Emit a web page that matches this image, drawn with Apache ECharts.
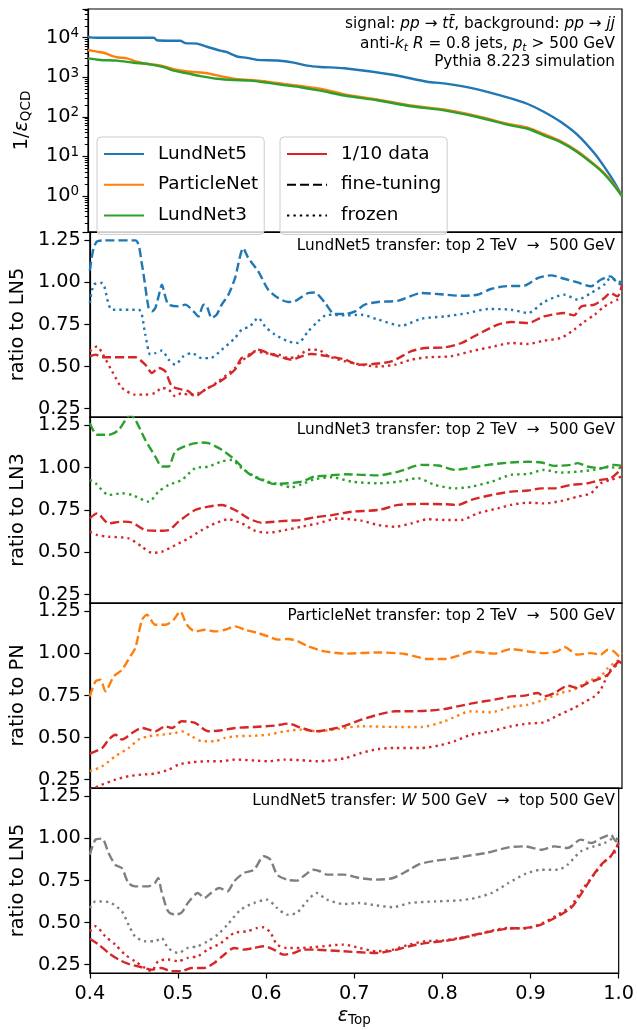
<!DOCTYPE html>
<html><head><meta charset="utf-8">
<script src="https://cdn.jsdelivr.net/npm/echarts@6/dist/echarts.min.js"></script>
<style>html,body{margin:0;padding:0;background:#fff}#c{width:637px;height:1030px}</style>
</head><body><div id="c"></div>
<script>
// ---------- data (x = signal efficiency, y = value) ----------
const xTicks = [0.4, 0.5, 0.6, 0.7, 0.8, 0.9, 1.0];
const logTicks = [1, 10, 100, 1000, 10000];
const ratioTicks = [0.25, 0.5, 0.75, 1.0, 1.25];

// panel 1: 1/eps_QCD
const LN5_roc = [[0.4,11000],[0.402,10200],[0.41,10000],[0.45,10000],[0.474,10000],[0.4775,8600],[0.49,8400],[0.5037,8400],[0.5094,7300],[0.5225,7100],[0.5337,5900],[0.5487,4700],[0.5562,4300],[0.5674,3350],[0.5787,3100],[0.5899,2750],[0.6124,2650],[0.6311,2350],[0.6461,1970],[0.661,1820],[0.688,1690],[0.744,1140],[0.781,773],[0.8,700],[0.8375,495],[0.875,293],[0.894,211],[0.912,135],[0.931,75],[0.95,35],[0.969,12],[0.98,5.5],[0.991,2.3],[1.0,1.0]];
const PN_roc = [[0.4,4900],[0.41,4450],[0.4176,4170],[0.4251,3600],[0.4326,3200],[0.4438,3000],[0.455,2470],[0.4663,2160],[0.4775,2040],[0.4888,1800],[0.5,1530],[0.515,1380],[0.5337,1260],[0.5487,1070],[0.5637,920],[0.5824,850],[0.6011,774],[0.6199,676],[0.6386,600],[0.661,515],[0.688,370],[0.725,275],[0.7625,193],[0.8,153],[0.8375,104],[0.875,64],[0.894,53],[0.912,37],[0.931,24.5],[0.95,13.5],[0.969,6.3],[0.98,3.8],[0.991,1.95],[1.0,1.0]];
const LN3_roc = [[0.4,3000],[0.4139,2740],[0.4326,2630],[0.4513,2330],[0.47,2120],[0.485,1800],[0.4963,1470],[0.5112,1260],[0.5262,1070],[0.545,920],[0.5637,850],[0.5824,820],[0.6011,730],[0.6199,635],[0.6386,560],[0.661,460],[0.688,345],[0.725,262],[0.7625,185],[0.8,146],[0.8375,99],[0.875,61],[0.894,50],[0.912,34],[0.931,23],[0.95,12.8],[0.969,6.0],[0.98,3.6],[0.991,1.85],[1.0,1.0]];

// panel 2: LundNet5 transfer top 2 TeV -> 500 GeV (ratio to LN5)
const LN5_ft = [[0.4,1.07],[0.404,1.2],[0.4082,1.244],[0.415,1.25],[0.4513,1.25],[0.4588,1.105],[0.4663,0.848],[0.47,0.828],[0.4738,0.848],[0.4775,0.917],[0.4813,0.987],[0.485,0.917],[0.4888,0.868],[0.5,0.858],[0.5075,0.868],[0.5169,0.828],[0.5225,0.798],[0.5281,0.868],[0.5318,0.858],[0.5375,0.789],[0.5431,0.81],[0.5487,0.868],[0.5562,0.927],[0.5637,1.026],[0.573,1.204],[0.5787,1.145],[0.5899,1.066],[0.6011,0.957],[0.6124,0.907],[0.6236,0.884],[0.6311,0.888],[0.6461,0.937],[0.6536,0.94],[0.665,0.88],[0.676,0.812],[0.688,0.812],[0.699,0.828],[0.71,0.868],[0.725,0.884],[0.748,0.892],[0.774,0.937],[0.7925,0.931],[0.819,0.921],[0.837,0.927],[0.852,0.961],[0.8674,0.977],[0.89,0.981],[0.905,1.026],[0.92,1.042],[0.935,1.022],[0.95,1.0],[0.965,0.977],[0.976,1.016],[0.987,1.036],[0.995,0.996],[1.0,0.987]];
const LN5_fz = [[0.4,0.878],[0.4045,0.987],[0.4139,0.997],[0.4251,0.838],[0.4551,0.838],[0.4625,0.69],[0.4682,0.571],[0.4738,0.58],[0.4813,0.595],[0.4888,0.541],[0.4963,0.511],[0.5056,0.561],[0.515,0.58],[0.5262,0.55],[0.5356,0.55],[0.5487,0.6],[0.5637,0.67],[0.5712,0.719],[0.5805,0.739],[0.5899,0.789],[0.5974,0.74],[0.6086,0.69],[0.6236,0.65],[0.6348,0.64],[0.6461,0.709],[0.6573,0.769],[0.668,0.808],[0.688,0.804],[0.706,0.808],[0.725,0.779],[0.751,0.743],[0.774,0.785],[0.8,0.798],[0.826,0.818],[0.849,0.842],[0.875,0.838],[0.894,0.818],[0.912,0.884],[0.935,0.927],[0.95,0.898],[0.965,0.937],[0.98,0.987],[0.987,1.026],[1.0,0.997]];
const LN5_d10_ft = [[0.4,0.561],[0.4064,0.571],[0.4139,0.555],[0.4513,0.555],[0.4625,0.511],[0.47,0.462],[0.4775,0.491],[0.485,0.472],[0.4925,0.383],[0.5037,0.363],[0.5112,0.353],[0.5187,0.323],[0.53,0.363],[0.5412,0.393],[0.5524,0.432],[0.5637,0.482],[0.5712,0.551],[0.5787,0.561],[0.5899,0.6],[0.6011,0.58],[0.6124,0.561],[0.6273,0.541],[0.6386,0.561],[0.6498,0.575],[0.669,0.561],[0.688,0.541],[0.703,0.511],[0.718,0.515],[0.74,0.531],[0.7625,0.591],[0.778,0.61],[0.8,0.614],[0.819,0.64],[0.837,0.69],[0.86,0.749],[0.875,0.765],[0.894,0.759],[0.912,0.798],[0.935,0.818],[0.946,0.804],[0.954,0.857],[0.969,0.868],[0.98,0.907],[0.987,0.937],[0.995,0.917],[1.0,0.987]];
const LN5_d10_fz = [[0.4,0.591],[0.4082,0.62],[0.4139,0.58],[0.4251,0.472],[0.4363,0.373],[0.4513,0.333],[0.4625,0.333],[0.4738,0.343],[0.4813,0.373],[0.4888,0.363],[0.4963,0.323],[0.5037,0.343],[0.5112,0.333],[0.5225,0.343],[0.5337,0.373],[0.545,0.412],[0.5637,0.492],[0.5712,0.531],[0.5862,0.591],[0.5974,0.58],[0.6124,0.571],[0.6236,0.551],[0.6348,0.561],[0.6461,0.6],[0.6573,0.6],[0.669,0.561],[0.688,0.531],[0.706,0.511],[0.725,0.5],[0.744,0.511],[0.7625,0.541],[0.781,0.555],[0.807,0.561],[0.83,0.591],[0.856,0.62],[0.875,0.64],[0.894,0.634],[0.912,0.654],[0.931,0.67],[0.946,0.719],[0.957,0.765],[0.969,0.808],[0.98,0.857],[0.987,0.878],[0.995,0.898],[1.0,0.907]];

// panel 3: LundNet3 transfer (ratio to LN3)
const LN3_ft = [[0.4,1.264],[0.4082,1.195],[0.4213,1.195],[0.4326,1.224],[0.4457,1.313],[0.4513,1.284],[0.4625,1.165],[0.4738,1.066],[0.4813,1.007],[0.4888,1.007],[0.4963,1.096],[0.5112,1.135],[0.5262,1.149],[0.5337,1.145],[0.5487,1.106],[0.5637,1.046],[0.5787,0.967],[0.5936,0.928],[0.6086,0.904],[0.6236,0.908],[0.6386,0.918],[0.6536,0.948],[0.665,0.952],[0.688,0.961],[0.725,0.955],[0.748,0.977],[0.774,1.017],[0.793,1.013],[0.812,0.987],[0.826,0.997],[0.849,1.017],[0.875,1.031],[0.894,1.035],[0.909,1.031],[0.924,1.011],[0.942,1.017],[0.95,1.027],[0.961,1.007],[0.976,0.997],[0.991,1.017],[1.0,1.011]];
const LN3_fz = [[0.4,0.928],[0.4064,0.908],[0.4213,0.839],[0.4363,0.849],[0.4476,0.839],[0.4663,0.799],[0.4775,0.859],[0.4888,0.898],[0.5037,0.928],[0.5187,0.997],[0.5337,1.007],[0.5487,1.037],[0.5599,1.046],[0.5712,0.997],[0.5862,0.948],[0.6011,0.918],[0.6161,0.898],[0.6273,0.884],[0.6386,0.902],[0.6536,0.932],[0.673,0.944],[0.695,0.918],[0.725,0.908],[0.748,0.918],[0.77,0.938],[0.789,0.898],[0.812,0.878],[0.83,0.888],[0.853,0.918],[0.875,0.958],[0.894,0.963],[0.912,0.987],[0.931,0.971],[0.95,0.977],[0.969,0.987],[0.984,1.003],[1.0,0.997]];
const LN3_d10_ft = [[0.4,0.701],[0.4082,0.73],[0.4213,0.671],[0.4363,0.681],[0.4476,0.675],[0.4625,0.631],[0.4775,0.627],[0.4888,0.631],[0.5,0.681],[0.5187,0.75],[0.5337,0.77],[0.5487,0.78],[0.5637,0.75],[0.5787,0.701],[0.5936,0.675],[0.6086,0.681],[0.6236,0.687],[0.6386,0.691],[0.6536,0.707],[0.673,0.72],[0.695,0.74],[0.725,0.75],[0.748,0.78],[0.774,0.786],[0.8,0.784],[0.815,0.78],[0.83,0.81],[0.853,0.839],[0.875,0.859],[0.894,0.865],[0.909,0.878],[0.924,0.878],[0.942,0.898],[0.961,0.908],[0.976,0.928],[0.987,0.938],[0.995,0.971],[1.0,1.007]];
const LN3_d10_fz = [[0.4,0.622],[0.4082,0.602],[0.4213,0.592],[0.4438,0.582],[0.4588,0.533],[0.47,0.497],[0.4813,0.503],[0.4963,0.542],[0.5112,0.582],[0.5262,0.631],[0.5412,0.671],[0.5562,0.695],[0.5712,0.671],[0.5862,0.627],[0.6011,0.616],[0.6199,0.631],[0.6386,0.651],[0.6573,0.671],[0.68,0.7],[0.706,0.687],[0.725,0.661],[0.744,0.651],[0.7625,0.671],[0.781,0.695],[0.8,0.691],[0.819,0.691],[0.837,0.73],[0.86,0.76],[0.875,0.78],[0.894,0.793],[0.912,0.789],[0.931,0.803],[0.95,0.829],[0.965,0.849],[0.976,0.908],[0.987,0.928],[1.0,0.948]];

// panel 4: ParticleNet transfer (ratio to PN)
const PN_ft = [[0.4,0.745],[0.4064,0.834],[0.412,0.844],[0.4176,0.775],[0.427,0.864],[0.4363,0.903],[0.4457,0.983],[0.4513,1.032],[0.4588,1.2],[0.4644,1.23],[0.4738,1.171],[0.485,1.171],[0.4944,1.2],[0.5019,1.25],[0.5094,1.171],[0.5187,1.131],[0.53,1.141],[0.5412,1.131],[0.5524,1.141],[0.5637,1.161],[0.5749,1.141],[0.5899,1.121],[0.6011,1.101],[0.6124,1.082],[0.6236,1.086],[0.6348,1.072],[0.6461,1.042],[0.6573,1.022],[0.665,1.012],[0.688,0.999],[0.725,1.006],[0.755,0.997],[0.781,0.967],[0.8,0.967],[0.819,0.993],[0.83,1.012],[0.856,0.999],[0.875,1.026],[0.894,1.012],[0.912,1.002],[0.927,1.012],[0.935,1.038],[0.95,0.993],[0.965,1.002],[0.976,0.993],[0.984,1.022],[0.991,1.012],[0.997,0.983],[1.0,1.002]];
const PN_fz = [[0.4,0.3],[0.4139,0.329],[0.4288,0.389],[0.4438,0.438],[0.455,0.488],[0.4663,0.507],[0.4813,0.517],[0.4963,0.527],[0.5037,0.537],[0.515,0.507],[0.5262,0.478],[0.5412,0.478],[0.5524,0.498],[0.5637,0.507],[0.5862,0.511],[0.6011,0.517],[0.6199,0.537],[0.6386,0.547],[0.6573,0.537],[0.669,0.543],[0.706,0.567],[0.744,0.563],[0.774,0.563],[0.8,0.597],[0.83,0.656],[0.852,0.65],[0.875,0.682],[0.894,0.696],[0.912,0.725],[0.931,0.765],[0.946,0.785],[0.961,0.834],[0.976,0.864],[0.984,0.913],[0.991,0.943],[1.0,0.973]];
const PN_d10_ft = [[0.4,0.404],[0.4139,0.438],[0.4213,0.488],[0.4288,0.517],[0.4363,0.488],[0.4476,0.527],[0.4588,0.557],[0.4738,0.537],[0.485,0.567],[0.4925,0.557],[0.5037,0.597],[0.5187,0.587],[0.5337,0.537],[0.5487,0.543],[0.5637,0.557],[0.5862,0.563],[0.6086,0.571],[0.6236,0.583],[0.6386,0.557],[0.6536,0.537],[0.669,0.547],[0.688,0.571],[0.706,0.606],[0.725,0.636],[0.744,0.656],[0.7625,0.656],[0.781,0.66],[0.8,0.67],[0.819,0.69],[0.837,0.709],[0.856,0.725],[0.875,0.745],[0.89,0.749],[0.905,0.765],[0.912,0.745],[0.924,0.765],[0.939,0.808],[0.95,0.794],[0.961,0.824],[0.972,0.844],[0.984,0.874],[0.991,0.923],[1.0,0.973]];
const PN_d10_fz = [[0.4,0.19],[0.4139,0.22],[0.4288,0.25],[0.4438,0.27],[0.4588,0.28],[0.4738,0.286],[0.4888,0.309],[0.5,0.339],[0.515,0.353],[0.5337,0.359],[0.5487,0.359],[0.5637,0.369],[0.5862,0.363],[0.6011,0.359],[0.6199,0.369],[0.6386,0.365],[0.6573,0.359],[0.669,0.363],[0.688,0.378],[0.706,0.408],[0.725,0.432],[0.744,0.438],[0.774,0.438],[0.793,0.452],[0.811,0.478],[0.83,0.517],[0.852,0.537],[0.875,0.567],[0.894,0.583],[0.912,0.591],[0.927,0.63],[0.946,0.676],[0.957,0.709],[0.969,0.745],[0.976,0.785],[0.987,0.903],[0.995,0.933],[1.0,0.953]];

// panel 5: LundNet5 transfer W 500 GeV -> top 500 GeV (ratio to LN5)
const W_ft = [[0.4,0.903],[0.4064,0.993],[0.4139,0.999],[0.4213,0.913],[0.4288,0.844],[0.4363,0.824],[0.4438,0.735],[0.4513,0.715],[0.4663,0.715],[0.4738,0.735],[0.4775,0.765],[0.4813,0.686],[0.4888,0.567],[0.4963,0.547],[0.5037,0.557],[0.5112,0.616],[0.5225,0.676],[0.53,0.646],[0.5375,0.676],[0.5468,0.705],[0.5562,0.686],[0.5637,0.745],[0.5749,0.795],[0.5862,0.814],[0.5974,0.894],[0.6049,0.874],[0.6124,0.785],[0.6236,0.755],[0.6348,0.749],[0.6423,0.775],[0.6536,0.814],[0.661,0.805],[0.669,0.785],[0.688,0.785],[0.706,0.765],[0.725,0.755],[0.744,0.765],[0.7625,0.814],[0.774,0.848],[0.793,0.868],[0.811,0.88],[0.83,0.898],[0.849,0.913],[0.875,0.947],[0.894,0.953],[0.912,0.933],[0.927,0.953],[0.942,0.943],[0.957,0.993],[0.969,0.973],[0.98,1.002],[0.991,1.022],[0.997,0.983],[1.0,0.993]];
const W_fz = [[0.4,0.587],[0.4064,0.626],[0.4213,0.622],[0.4363,0.567],[0.4438,0.488],[0.4513,0.418],[0.4625,0.389],[0.4738,0.389],[0.4813,0.408],[0.4888,0.349],[0.5,0.319],[0.5112,0.349],[0.5225,0.359],[0.5337,0.389],[0.545,0.428],[0.5562,0.488],[0.5712,0.577],[0.5862,0.616],[0.6011,0.636],[0.6124,0.587],[0.6236,0.547],[0.6348,0.557],[0.6461,0.626],[0.6573,0.676],[0.669,0.636],[0.688,0.61],[0.706,0.616],[0.725,0.602],[0.744,0.591],[0.7625,0.616],[0.793,0.626],[0.819,0.632],[0.837,0.646],[0.856,0.676],[0.875,0.735],[0.894,0.789],[0.912,0.814],[0.931,0.814],[0.942,0.844],[0.957,0.923],[0.972,0.953],[0.984,0.973],[0.995,1.002],[1.0,0.993]];
const W_d10_ft = [[0.4,0.404],[0.4101,0.369],[0.4213,0.319],[0.4326,0.28],[0.4438,0.254],[0.4588,0.234],[0.47,0.22],[0.4813,0.23],[0.4925,0.21],[0.5037,0.21],[0.515,0.23],[0.53,0.23],[0.5412,0.26],[0.5524,0.309],[0.5637,0.349],[0.5749,0.339],[0.5862,0.349],[0.5974,0.359],[0.6086,0.339],[0.6199,0.309],[0.6311,0.319],[0.6423,0.339],[0.6536,0.339],[0.688,0.329],[0.725,0.319],[0.744,0.333],[0.7625,0.359],[0.781,0.378],[0.8,0.389],[0.819,0.404],[0.837,0.428],[0.856,0.448],[0.875,0.464],[0.894,0.468],[0.912,0.488],[0.931,0.537],[0.946,0.587],[0.957,0.666],[0.969,0.765],[0.98,0.844],[0.991,0.894],[1.0,0.973]];
const W_d10_fz = [[0.4,0.448],[0.4064,0.478],[0.4176,0.418],[0.4288,0.369],[0.4401,0.309],[0.4513,0.27],[0.4625,0.23],[0.47,0.21],[0.4775,0.27],[0.4888,0.28],[0.5,0.27],[0.5112,0.29],[0.5225,0.3],[0.5337,0.339],[0.5487,0.378],[0.5637,0.438],[0.5787,0.448],[0.5899,0.468],[0.5974,0.472],[0.6049,0.44],[0.6124,0.369],[0.6236,0.349],[0.6386,0.349],[0.6536,0.353],[0.688,0.369],[0.706,0.349],[0.725,0.329],[0.744,0.339],[0.7625,0.369],[0.781,0.389],[0.8,0.393],[0.819,0.408],[0.837,0.424],[0.856,0.452],[0.875,0.468],[0.894,0.464],[0.912,0.492],[0.931,0.547],[0.946,0.597],[0.957,0.686],[0.972,0.785],[0.984,0.864],[0.995,0.913],[1.0,0.983]];

// ---------- styling / layout ----------
const FONT = 'DejaVu Sans';
const FS = 19.3, FSA = 15.3;
const COL = {blue:'#1f77b4', orange:'#ff7f0e', green:'#2ca02c', red:'#d62728', grey:'#7f7f7f', black:'#000'};
const LW = 2.4;
const DASH = [9, 4];
const DOT = [2.4, 4];
const LOG_MIN = 0.123, LOG_MAX = 53100;

const gridDefs = [[9,223],[232,185],[417,186],[603,185],[788,185]];
const grid = gridDefs.map(g => ({left:88, right:15, top:g[0], height:g[1], show:true,
  borderColor:'#000', borderWidth:1.2, backgroundColor:'rgba(0,0,0,0)'}));

const tickStyle = {color:'#000', width:1.2};
const xAxis = gridDefs.map((g,i) => ({
  type:'value', gridIndex:i, min:0.4, max:1.0, interval:0.1,
  axisLine:{show:true, onZero:false, lineStyle:tickStyle},
  axisTick:{show:i===4, length:5.5, lineStyle:tickStyle},
  axisLabel:{show:i===4, margin:11, color:'#000', fontFamily:FONT, fontSize:FS, formatter:v=>v.toFixed(1)},
  splitLine:{show:false},
  name: i===4 ? '{e|ε}{s|Top}' : '',
  nameLocation:'middle', nameGap:32,
  nameTextStyle:{rich:{
    e:{fontFamily:FONT, fontSize:FS, fontStyle:'italic', color:'#000', lineHeight:22},
    s:{fontFamily:FONT, fontSize:13.5, color:'#000', verticalAlign:'bottom', lineHeight:14}
  }}
}));

const nameRich = {
  a:{fontFamily:FONT, fontSize:FS, color:'#000', lineHeight:22},
  e:{fontFamily:FONT, fontSize:FS, fontStyle:'italic', color:'#000', lineHeight:22},
  s:{fontFamily:FONT, fontSize:13.5, color:'#000', verticalAlign:'bottom', lineHeight:14}
};
const yAxis = [
  {type:'log', logBase:10, gridIndex:0, min:LOG_MIN, max:LOG_MAX, position:'left',
   axisLine:{show:true, lineStyle:tickStyle},
   axisTick:{show:true, length:5.5, lineStyle:tickStyle},
   minorTick:{show:true, splitNumber:9, length:3.2, lineStyle:{color:'#000', width:1}},
   axisLabel:{margin:9, customValues:logTicks,
     formatter:v=>'{b|10}{p|' + Math.round(Math.log10(v)) + '}',
     rich:{b:{fontFamily:FONT, fontSize:FS, color:'#000', lineHeight:22},
           p:{fontFamily:FONT, fontSize:13.5, color:'#000', verticalAlign:'top', lineHeight:14}}},
   splitLine:{show:false}, minorSplitLine:{show:false},
   name:'{a|1/}{e|ε}{s|QCD}', nameLocation:'middle', nameRotate:90, nameGap:55,
   nameTextStyle:{rich:nameRich}}
];
const ratioNames = ['ratio to LN5','ratio to LN3','ratio to PN','ratio to LN5'];
for (let i = 1; i <= 4; i++) {
  yAxis.push({type:'value', gridIndex:i, min:0.2, max:1.3, position:'left',
    axisLine:{show:true, onZero:false, lineStyle:tickStyle},
    axisTick:{show:true, length:5.5, lineStyle:tickStyle, customValues:ratioTicks},
    axisLabel:{margin:9, customValues:ratioTicks, color:'#000', fontFamily:FONT, fontSize:FS, formatter:v=>v.toFixed(2)},
    splitLine:{show:false},
    name:ratioNames[i-1], nameLocation:'middle', nameRotate:90, nameGap:54,
    nameTextStyle:{fontFamily:FONT, fontSize:FS, color:'#000'}});
}

function line(name, data, color, dash, xi, yi) {
  return {type:'line', name, data, xAxisIndex:xi, yAxisIndex:yi,
    symbol:'none', showSymbol:false, smooth:0.25, clip:true, silent:true,
    lineStyle:{color, width:LW, type:dash, cap:'butt'}, itemStyle:{color}};
}

const series = [
  line('LundNet5', LN5_roc, COL.blue, 'solid', 0, 0),
  line('ParticleNet', PN_roc, COL.orange, 'solid', 0, 0),
  line('LundNet3', LN3_roc, COL.green, 'solid', 0, 0),
  line('1/10 data', [], COL.red, 'solid', 0, 0),
  line('fine-tuning', [], COL.black, DASH, 0, 0),
  line('frozen', [], COL.black, DOT, 0, 0),

  line('LN5 ft', LN5_ft, COL.blue, DASH, 1, 1),
  line('LN5 fz', LN5_fz, COL.blue, DOT, 1, 1),
  line('LN5 d10 ft', LN5_d10_ft, COL.red, DASH, 1, 1),
  line('LN5 d10 fz', LN5_d10_fz, COL.red, DOT, 1, 1),

  line('LN3 ft', LN3_ft, COL.green, DASH, 2, 2),
  line('LN3 fz', LN3_fz, COL.green, DOT, 2, 2),
  line('LN3 d10 ft', LN3_d10_ft, COL.red, DASH, 2, 2),
  line('LN3 d10 fz', LN3_d10_fz, COL.red, DOT, 2, 2),

  line('PN ft', PN_ft, COL.orange, DASH, 3, 3),
  line('PN fz', PN_fz, COL.orange, DOT, 3, 3),
  line('PN d10 ft', PN_d10_ft, COL.red, DASH, 3, 3),
  line('PN d10 fz', PN_d10_fz, COL.red, DOT, 3, 3),

  line('W ft', W_ft, COL.grey, DASH, 4, 4),
  line('W fz', W_fz, COL.grey, DOT, 4, 4),
  line('W d10 ft', W_d10_ft, COL.red, DASH, 4, 4),
  line('W d10 fz', W_d10_fz, COL.red, DOT, 4, 4)
];

const legendBase = {orient:'vertical', top:137, itemWidth:40, itemHeight:14, itemGap:12.7,
  padding:[8,6,10,6], borderColor:'#cccccc', borderWidth:1, borderRadius:4,
  backgroundColor:'rgba(255,255,255,0.8)', selectedMode:false,
  itemStyle:{opacity:0},
  textStyle:{fontFamily:FONT, fontSize:18.4, color:'#000', padding:[0,0,0,9]}};
const legend = [
  Object.assign({}, legendBase, {left:97, data:['LundNet5','ParticleNet','LundNet3']}),
  Object.assign({}, legendBase, {left:280, data:['1/10 data','fine-tuning','frozen']})
];

const aRich = {
  n:{fontFamily:FONT, fontSize:FSA, fill:'#000', color:'#000', lineHeight:19},
  i:{fontFamily:FONT, fontSize:FSA, fontStyle:'italic', fill:'#000', color:'#000', lineHeight:19},
  si:{fontFamily:FONT, fontSize:11, fontStyle:'italic', fill:'#000', color:'#000', verticalAlign:'bottom', lineHeight:12}
};
function ann(text, y) {
  return {type:'text', x:615, y:y, silent:true,
    style:{text, rich:aRich, align:'right', verticalAlign:'middle', textAlign:'right', textVerticalAlign:'middle',
      fontFamily:FONT, fontSize:FSA, fill:'#000'}};
}
const graphic = [
  ann('{n|signal: }{i|pp}{n| → }{i|tt\u0304}{n|, background: }{i|pp}{n| → }{i|jj}', 24.5),
  ann('{n|anti-}{i|k}{si|t}{n| }{i|R}{n| = 0.8 jets, }{i|p}{si|t}{n| > 500 GeV}', 44),
  ann('{n|Pythia 8.223 simulation}', 62.5),
  ann('{n|LundNet5 transfer: top 2 TeV  →  500 GeV}', 245.7),
  ann('{n|LundNet3 transfer: top 2 TeV  →  500 GeV}', 430),
  ann('{n|ParticleNet transfer: top 2 TeV  →  500 GeV}', 616),
  ann('{n|LundNet5 transfer: }{i|W}{n| 500 GeV  →  top 500 GeV}', 801)
];

const chart = echarts.init(document.getElementById('c'), null, {renderer:'canvas'});
chart.setOption({animation:false, backgroundColor:'#fff', grid, xAxis, yAxis, series, legend, graphic});
</script></body></html>
